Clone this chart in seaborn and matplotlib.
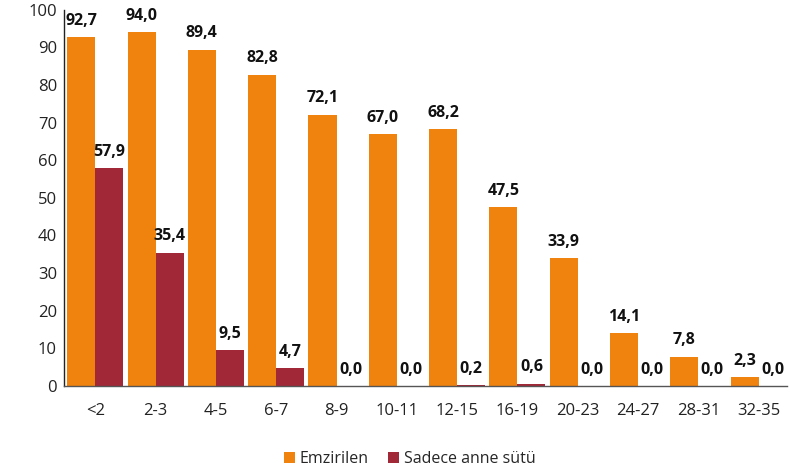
import matplotlib
matplotlib.use("Agg")
import matplotlib.pyplot as plt
import seaborn as sns
import pandas as pd

categories = ["<2", "2-3", "4-5", "6-7", "8-9", "10-11", "12-15", "16-19",
              "20-23", "24-27", "28-31", "32-35"]
emzirilen = [92.7, 94.0, 89.4, 82.8, 72.1, 67.0, 68.2, 47.5, 33.9, 14.1, 7.8, 2.3]
sadece_anne_sutu = [57.9, 35.4, 9.5, 4.7, 0.0, 0.0, 0.2, 0.6, 0.0, 0.0, 0.0, 0.0]
series_names = ["Emzirilen", "Sadece anne sütü"]

df = pd.DataFrame({
    "Yaş": categories * 2,
    "Değer": emzirilen + sadece_anne_sutu,
    "Seri": [series_names[0]] * len(categories) + [series_names[1]] * len(categories),
})

sns.set_theme(style="white")
plt.rcParams["font.family"] = ["Open Sans", "DejaVu Sans"]

fig = plt.figure(figsize=(7.99, 4.70), dpi=100)
ax = fig.add_axes([0.080, 0.179, 0.905, 0.800])

palette = {series_names[0]: "#F0820E", series_names[1]: "#A02837"}
sns.barplot(data=df, x="Yaş", y="Değer", hue="Seri", order=categories,
            hue_order=series_names, palette=palette, width=0.93,
            saturation=1, ax=ax, errorbar=None, linewidth=0)

for container in ax.containers:
    labels = [f"{v:.1f}".replace(".", ",") for v in container.datavalues]
    ax.bar_label(container, labels=labels, padding=6, fontsize=11.5,
                 fontweight="bold", color="#111111")

ax.set_ylim(0, 100)
ax.set_xlim(-0.52, 11.47)
ax.set_yticks(range(0, 101, 10))
ax.set_xlabel("")
ax.set_ylabel("")
ax.tick_params(axis="y", labelsize=12, pad=5, length=0, colors="#222222")
ax.tick_params(axis="x", labelsize=12, pad=12, length=0, colors="#222222")

for side in ["top", "right"]:
    ax.spines[side].set_visible(False)
ax.spines["left"].set_color("#222222")
ax.spines["left"].set_linewidth(1.0)
ax.spines["bottom"].set_color("#555555")
ax.spines["bottom"].set_linewidth(1.0)

ax.legend(loc="lower center", bbox_to_anchor=(0.478, -0.255), ncol=2,
          frameon=False, fontsize=11.5, handlelength=0.7, handleheight=0.7,
          handletextpad=0.3, columnspacing=1.2)

fig.savefig("out.png", dpi=100)
